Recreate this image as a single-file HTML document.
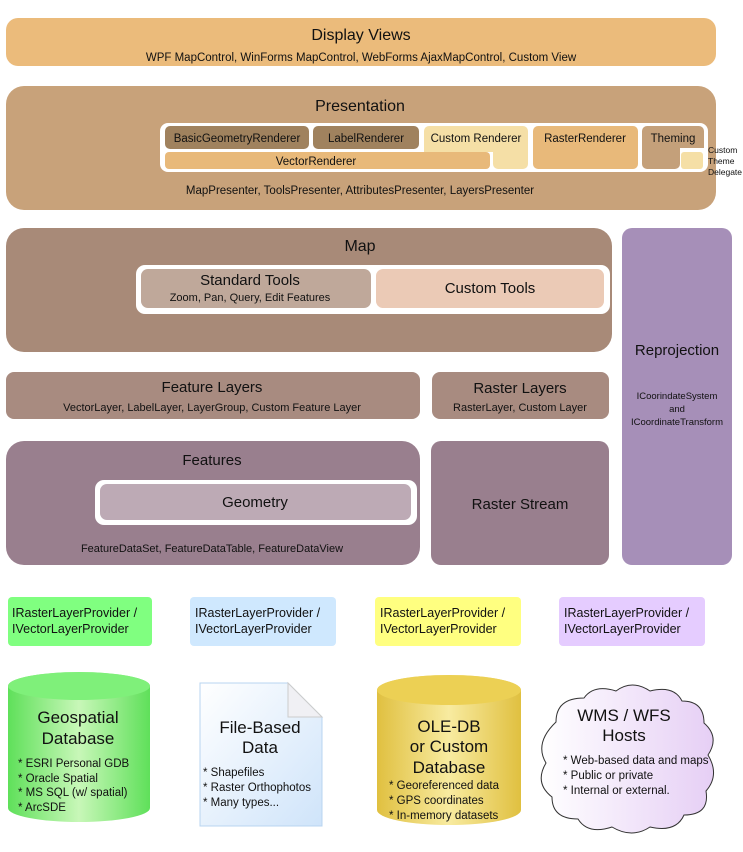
<!DOCTYPE html>
<html><head><meta charset="utf-8"><style>
body{margin:0;background:#fff;width:743px;height:847px;overflow:hidden}
svg text{font-family:"Liberation Sans",sans-serif;fill:#111}
</style></head><body>
<svg width="743" height="847" xmlns="http://www.w3.org/2000/svg">
<defs>
<linearGradient id="gg" x1="0" x2="1"><stop offset="0" stop-color="#5fe05a"/><stop offset=".5" stop-color="#c8f7b8"/><stop offset="1" stop-color="#5fe05a"/></linearGradient>
<linearGradient id="yg" x1="0" x2="1"><stop offset="0" stop-color="#e0c040"/><stop offset=".5" stop-color="#f8eba0"/><stop offset="1" stop-color="#e0c040"/></linearGradient>
<linearGradient id="dg" x1="0" y1="0" x2="1" y2="1"><stop offset="0" stop-color="#fff"/><stop offset="1" stop-color="#cfe4fa"/></linearGradient>
<linearGradient id="cg" x1="0" x2="1"><stop offset="0" stop-color="#fff"/><stop offset="1" stop-color="#e6cff5"/></linearGradient>
</defs>
<g>
<rect x="6" y="18" width="710" height="48" rx="12" fill="#ebbb7b"/>
<text x="361" y="40" font-size="16" text-anchor="middle">Display Views</text>
<text x="361" y="61" font-size="11.5" text-anchor="middle">WPF MapControl, WinForms MapControl, WebForms AjaxMapControl, Custom View</text>
</g>
<g>
<rect x="6" y="86" width="710" height="124" rx="18" fill="#c8a27a"/>
<text x="360" y="111" font-size="16" text-anchor="middle">Presentation</text>
<rect x="160" y="123" width="548" height="49" rx="8" fill="#fff"/>
<rect x="165" y="126" width="144" height="23" rx="5" fill="#a0825e"/>
<text x="237" y="142" font-size="11.5" text-anchor="middle">BasicGeometryRenderer</text>
<rect x="313" y="126" width="106" height="23" rx="5" fill="#a0825e"/>
<text x="366" y="142" font-size="11.5" text-anchor="middle">LabelRenderer</text>
<path d="M424 131a5 5 0 0 1 5-5h94a5 5 0 0 1 5 5v33a5 5 0 0 1-5 5h-25a5 5 0 0 1-5-5v-12h-69z" fill="#f5dfa6"/>
<text x="476" y="142" font-size="11.5" text-anchor="middle">Custom Renderer</text>
<rect x="165" y="152" width="325" height="17" rx="4" fill="#e8b97a"/>
<text x="316" y="165" font-size="11.5" text-anchor="middle">VectorRenderer</text>
<rect x="533" y="126" width="105" height="43" rx="5" fill="#e8b97a"/>
<text x="585" y="142" font-size="11.5" text-anchor="middle">RasterRenderer</text>
<path d="M642 131a5 5 0 0 1 5-5h52a5 5 0 0 1 5 5v17h-24v16a5 5 0 0 1-5 5h-28a5 5 0 0 1-5-5z" fill="#c4a07a"/>
<text x="673" y="142" font-size="11.5" text-anchor="middle">Theming</text>
<rect x="681" y="152" width="22" height="17" rx="3" fill="#f5dfa6"/>
<text x="708" y="153" font-size="8.5">Custom</text>
<text x="708" y="164" font-size="8.5">Theme</text>
<text x="708" y="175" font-size="8.5">Delegate</text>
<text x="360" y="194" font-size="11.5" text-anchor="middle">MapPresenter, ToolsPresenter, AttributesPresenter, LayersPresenter</text>
</g>
<g>
<rect x="6" y="228" width="606" height="124" rx="18" fill="#a88a78"/>
<text x="360" y="251" font-size="16" text-anchor="middle">Map</text>
<rect x="136" y="265" width="474" height="49" rx="9" fill="#fff"/>
<rect x="141" y="269" width="230" height="39" rx="7" fill="#bfa89a"/>
<text x="250" y="285" font-size="15" text-anchor="middle">Standard Tools</text>
<text x="250" y="301" font-size="11" text-anchor="middle">Zoom, Pan, Query, Edit Features</text>
<rect x="376" y="269" width="228" height="39" rx="7" fill="#ebcab6"/>
<text x="490" y="293" font-size="15" text-anchor="middle">Custom Tools</text>
</g>
<g>
<rect x="622" y="228" width="110" height="337" rx="10" fill="#a68fb8"/>
<text x="677" y="355" font-size="15" text-anchor="middle">Reprojection</text>
<text x="677" y="399" font-size="9.5" text-anchor="middle">ICoorindateSystem</text>
<text x="677" y="412" font-size="9.5" text-anchor="middle">and</text>
<text x="677" y="425" font-size="9.5" text-anchor="middle">ICoordinateTransform</text>
</g>
<g>
<rect x="6" y="372" width="414" height="47" rx="8" fill="#a88b80"/>
<text x="212" y="392" font-size="15" text-anchor="middle">Feature Layers</text>
<text x="212" y="411" font-size="11" text-anchor="middle">VectorLayer, LabelLayer, LayerGroup, Custom Feature Layer</text>
</g>
<g>
<rect x="432" y="372" width="177" height="47" rx="8" fill="#a88b80"/>
<text x="520" y="393" font-size="15" text-anchor="middle">Raster Layers</text>
<text x="520" y="411" font-size="11" text-anchor="middle">RasterLayer, Custom Layer</text>
</g>
<g>
<rect x="6" y="441" width="414" height="124" rx="18" fill="#997f8e"/>
<text x="212" y="465" font-size="15" text-anchor="middle">Features</text>
<rect x="95" y="480" width="322" height="45" rx="9" fill="#fff"/>
<rect x="100" y="484" width="311" height="36" rx="7" fill="#bdaab5"/>
<text x="255" y="507" font-size="15" text-anchor="middle">Geometry</text>
<text x="212" y="552" font-size="11" text-anchor="middle">FeatureDataSet, FeatureDataTable, FeatureDataView</text>
</g>
<g>
<rect x="431" y="441" width="178" height="124" rx="10" fill="#997f8e"/>
<text x="520" y="509" font-size="15" text-anchor="middle">Raster Stream</text>
</g>
<g>
<rect x="8" y="597" width="144" height="49" rx="4" fill="#80ff80"/>
<text x="12" y="617" font-size="12.5">IRasterLayerProvider /</text><text x="12" y="633" font-size="12.5">IVectorLayerProvider</text>
<rect x="190" y="597" width="146" height="49" rx="4" fill="#cfe8fe"/>
<text x="195" y="617" font-size="12.5">IRasterLayerProvider /</text><text x="195" y="633" font-size="12.5">IVectorLayerProvider</text>
<rect x="375" y="597" width="146" height="49" rx="4" fill="#ffff80"/>
<text x="380" y="617" font-size="12.5">IRasterLayerProvider /</text><text x="380" y="633" font-size="12.5">IVectorLayerProvider</text>
<rect x="559" y="597" width="146" height="49" rx="4" fill="#e5ccff"/>
<text x="564" y="617" font-size="12.5">IRasterLayerProvider /</text><text x="564" y="633" font-size="12.5">IVectorLayerProvider</text>
</g>
<g>
<path d="M8 686a71 14 0 0 1 142 0v122a71 14 0 0 1-142 0z" fill="url(#gg)"/>
<ellipse cx="79" cy="686" rx="71" ry="14" fill="#7ff07a"/>
<text x="78" y="723" font-size="17" text-anchor="middle">Geospatial</text>
<text x="78" y="744" font-size="17" text-anchor="middle">Database</text>
<text x="18" y="767" font-size="11.5">* ESRI Personal GDB</text>
<text x="18" y="782" font-size="11.5">* Oracle Spatial</text>
<text x="18" y="796" font-size="11.5">* MS SQL (w/ spatial)</text>
<text x="18" y="811" font-size="11.5">* ArcSDE</text>
</g>
<g>
<path d="M200 683h88l34 34v109h-122z" fill="url(#dg)" stroke="#b8d4f0"/>
<path d="M288 683v34h34z" fill="#f0f0f4" stroke="#ccc"/>
<text x="260" y="733" font-size="17" text-anchor="middle">File-Based</text>
<text x="260" y="753" font-size="17" text-anchor="middle">Data</text>
<text x="203" y="776" font-size="11.5">* Shapefiles</text>
<text x="203" y="791" font-size="11.5">* Raster Orthophotos</text>
<text x="203" y="806" font-size="11.5">* Many types...</text>
</g>
<g>
<path d="M377 690a72 15 0 0 1 144 0v120a72 15 0 0 1-144 0z" fill="url(#yg)"/>
<ellipse cx="449" cy="690" rx="72" ry="15" fill="#ecd054"/>
<text x="449" y="732" font-size="17" text-anchor="middle">OLE-DB</text>
<text x="449" y="752" font-size="17" text-anchor="middle">or Custom</text>
<text x="449" y="773" font-size="17" text-anchor="middle">Database</text>
<text x="389" y="789" font-size="11.5">* Georeferenced data</text>
<text x="389" y="804" font-size="11.5">* GPS coordinates</text>
<text x="389" y="819" font-size="11.5">* In-memory datasets</text>
</g>
<g>
<path d="M556 722q0-24 28-24q10-14 32-7q16-12 34 0q24-6 32 10q22 0 22 22q16 14 4 32q12 20-2 36q4 24-22 24q-8 18-34 12q-18 12-38 0q-24 8-34-8q-26 0-26-22q-18-14-6-34q-12-20 10-41z" fill="url(#cg)" stroke="#333" stroke-width="1"/>
<text x="624" y="721" font-size="17" text-anchor="middle">WMS / WFS</text>
<text x="624" y="741" font-size="17" text-anchor="middle">Hosts</text>
<text x="563" y="764" font-size="11.5">* Web-based data and maps</text>
<text x="563" y="779" font-size="11.5">* Public or private</text>
<text x="563" y="794" font-size="11.5">* Internal or external.</text>
</g>
</svg>
</body></html>
